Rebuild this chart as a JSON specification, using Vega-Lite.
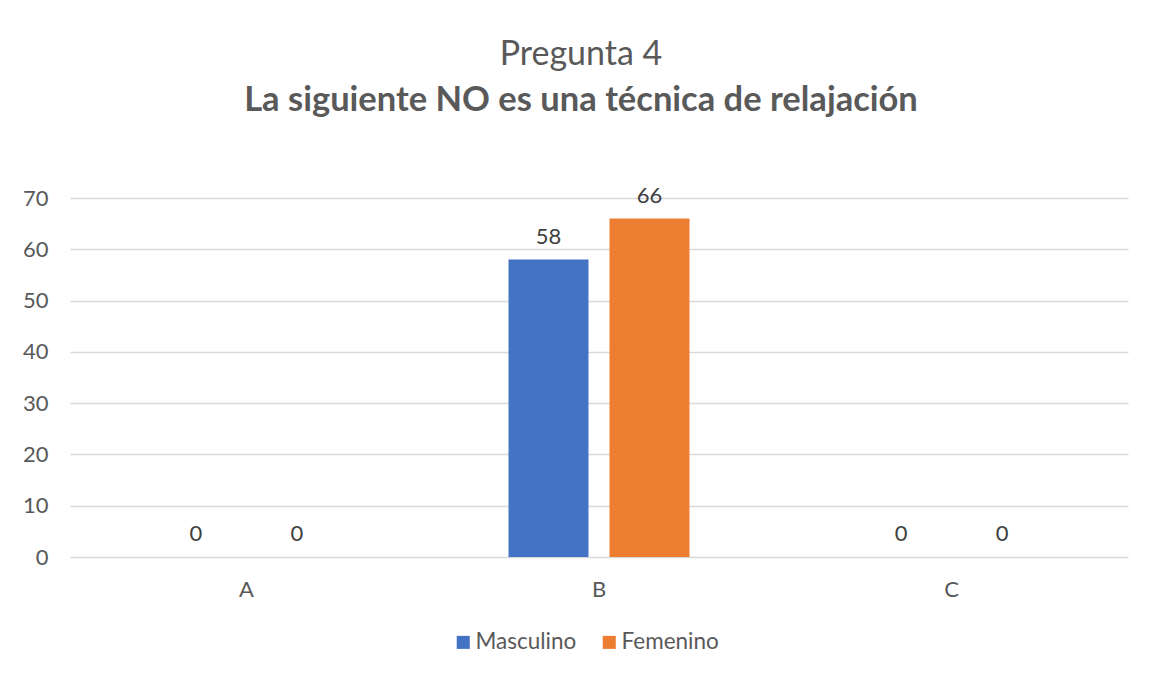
{
  "$schema": "https://vega.github.io/schema/vega-lite/v6.json",
  "autosize": {"type": "none"},
  "padding": {"left": 70, "top": 198, "right": 29, "bottom": 120},
  "width": 1058,
  "height": 359,
  "background": "white",
  "title": {
    "text": "Pregunta 4",
    "subtitle": "La siguiente NO es una técnica de relajación",
    "anchor": "middle",
    "dx": -18,
    "offset": 67,
    "font": "Lato",
    "fontSize": 34,
    "fontWeight": "normal",
    "color": "#595959",
    "subtitleFont": "Lato",
    "subtitleFontSize": 34.5,
    "subtitleFontWeight": "bold",
    "subtitleColor": "#595959",
    "subtitlePadding": 12
  },
  "data": {
    "values": [
      {"opcion": "A", "sexo": "Masculino", "valor": 0},
      {"opcion": "A", "sexo": "Femenino", "valor": 0},
      {"opcion": "B", "sexo": "Masculino", "valor": 58},
      {"opcion": "B", "sexo": "Femenino", "valor": 66},
      {"opcion": "C", "sexo": "Masculino", "valor": 0},
      {"opcion": "C", "sexo": "Femenino", "valor": 0}
    ]
  },
  "encoding": {
    "x": {
      "field": "opcion",
      "type": "nominal",
      "title": null,
      "scale": {"paddingInner": 0, "paddingOuter": 0},
      "axis": {
        "labelAngle": 0,
        "domain": false,
        "ticks": false,
        "labelPadding": 22,
        "labelFont": "Lato",
        "labelFontSize": 22,
        "labelColor": "#595959"
      }
    },
    "xOffset": {
      "field": "sexo",
      "type": "nominal",
      "sort": ["Masculino", "Femenino"],
      "scale": {"paddingInner": 0.208, "paddingOuter": 0.85}
    },
    "y": {
      "field": "valor",
      "type": "quantitative",
      "title": null,
      "scale": {"domain": [0, 70], "nice": false},
      "axis": {
        "values": [0, 10, 20, 30, 40, 50, 60, 70],
        "domain": false,
        "ticks": false,
        "labelPadding": 22,
        "labelFont": "Lato",
        "labelFontSize": 22,
        "labelColor": "#595959",
        "gridColor": "#d9d9d9",
        "gridWidth": 1.5
      }
    }
  },
  "layer": [
    {
      "mark": {"type": "bar"},
      "encoding": {
        "color": {
          "field": "sexo",
          "type": "nominal",
          "sort": ["Masculino", "Femenino"],
          "scale": {"domain": ["Masculino", "Femenino"], "range": ["#4472C4", "#ED7D31"]},
          "legend": {
            "title": null,
            "orient": "none",
            "direction": "horizontal",
            "legendX": 382,
            "legendY": 433,
            "symbolType": "square",
            "symbolSize": 170,
            "symbolStrokeWidth": 0,
            "labelFont": "Lato",
            "labelFontSize": 22.5,
            "labelColor": "#595959",
            "labelOffset": 1,
            "columnPadding": 21
          }
        }
      }
    },
    {
      "mark": {"type": "text", "baseline": "bottom", "dy": -11, "font": "Lato", "fontSize": 22, "color": "#404040"},
      "encoding": {
        "text": {"field": "valor", "type": "quantitative"}
      }
    }
  ],
  "config": {"view": {"stroke": null}}
}
